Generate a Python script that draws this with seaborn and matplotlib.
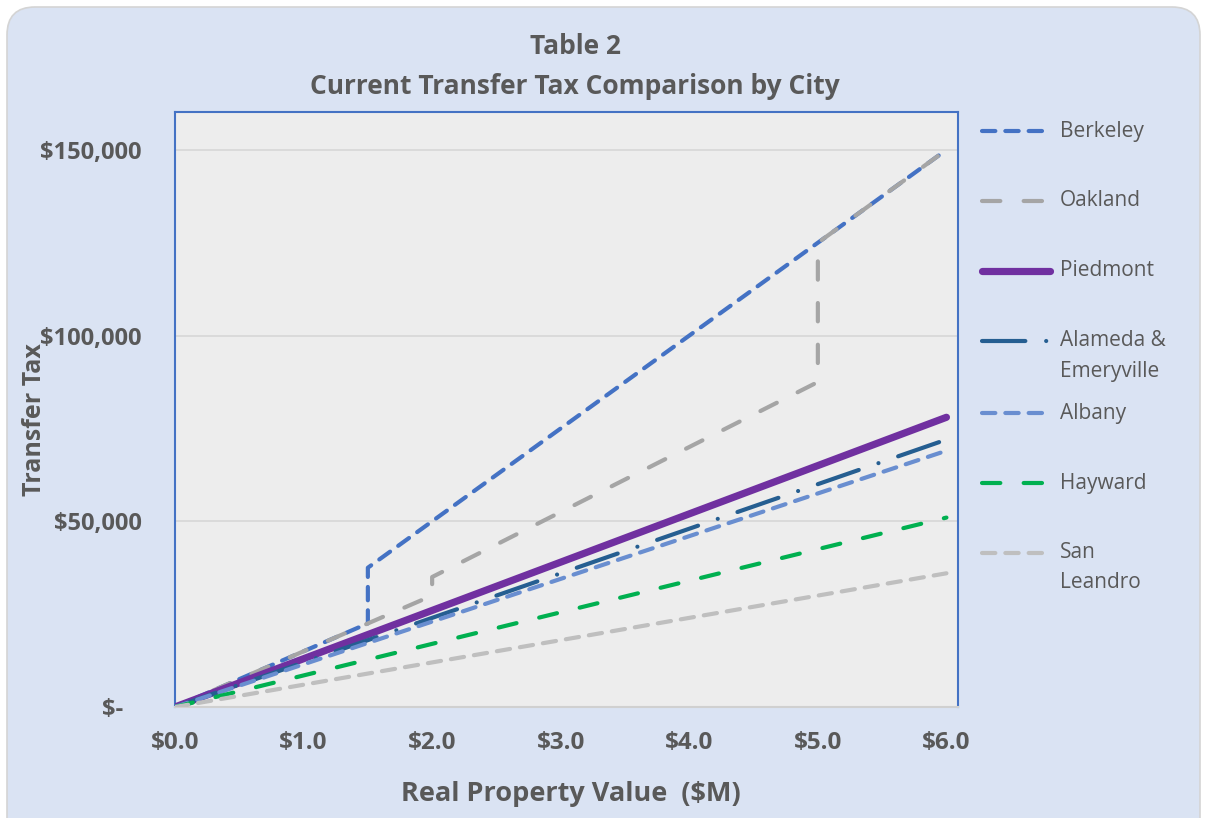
import numpy as np
import pandas as pd
import seaborn as sns
import matplotlib.pyplot as plt
from matplotlib.lines import Line2D
from matplotlib.patches import FancyBboxPatch
from matplotlib.ticker import FuncFormatter

# Data: transfer tax ($) vs real property value ($M), breakpoints
berkeley_x = [0.0, 1.5, 1.5, 6.0]
berkeley_y = [0, 22500, 37500, 150000]
oakland_x = [0.0, 2.0, 2.0, 5.0, 5.0, 6.0]
oakland_y = [0, 30000, 35000, 87500, 125000, 150000]
piedmont_x = [0.0, 6.0]
piedmont_y = [0, 78000]
alameda_x = [0.0, 6.0]
alameda_y = [0, 72000]
albany_x = [0.0, 6.0]
albany_y = [0, 69000]
hayward_x = [0.0, 6.0]
hayward_y = [0, 51000]
sanleandro_x = [0.0, 6.0]
sanleandro_y = [0, 36000]

cities = ["Berkeley", "Oakland", "Piedmont", "Alameda &\nEmeryville",
          "Albany", "Hayward", "San\nLeandro"]
xs = [berkeley_x, oakland_x, piedmont_x, alameda_x, albany_x, hayward_x, sanleandro_x]
ys = [berkeley_y, oakland_y, piedmont_y, alameda_y, albany_y, hayward_y, sanleandro_y]

x_ticks = [0, 1, 2, 3, 4, 5, 6]
y_ticks = [0, 50000, 100000, 150000]

# styles
colors = ["#4472c4", "#a5a5a5", "#7030a0", "#255e91", "#698ed0", "#00b050", "#bfbfbf"]
widths = [3.0, 3.0, 5.2, 3.0, 3.0, 3.0, 3.0]
short = (0, (3.2, 2.4))
long_ = (0, (4.4, 5.6))
dashdot = (0, (10.4, 5.0, 0.01, 5.0))
styles = [short, long_, "-", dashdot, short, long_, short]

sns.set_style("white")
plt.rcParams["font.family"] = ["Open Sans", "DejaVu Sans"]
txt = "#595959"

fig = plt.figure(figsize=(12.07, 8.18), dpi=100)
fig.patch.set_facecolor("white")
bg = FancyBboxPatch((0.07, -0.3), 11.93, 8.41,
                    boxstyle="round,pad=0,rounding_size=0.28",
                    transform=fig.dpi_scale_trans, facecolor="#dae3f3",
                    edgecolor="#d4d4d4", linewidth=1.2, zorder=-10)
fig.add_artist(bg)

ax = fig.add_axes([175 / 1207, 1 - 707 / 818, (958 - 175) / 1207, (707 - 112) / 818])
ax.set_facecolor("#ededed")

for i in range(len(cities)):
    df = pd.DataFrame({"value": xs[i], "tax": ys[i]})
    sns.lineplot(data=df, x="value", y="tax", ax=ax, color=colors[i],
                 linewidth=widths[i], linestyle=styles[i], estimator=None,
                 sort=False, dash_capstyle="round", solid_capstyle="round",
                 zorder=3 + i)

ax.set_xlim(0, 6.09)
ax.set_ylim(0, 160200)
ax.set_xticks(x_ticks)
ax.set_yticks(y_ticks)
ax.xaxis.set_major_formatter(FuncFormatter(lambda v, p: f"${v:.1f}"))
ax.yaxis.set_major_formatter(FuncFormatter(lambda v, p: "$-   " if v == 0 else f"${v:,.0f}"))
ax.grid(axis="y", color="#d9d9d9", linewidth=1.3, zorder=0)
ax.set_axisbelow(True)

for s in ["left", "top", "right"]:
    ax.spines[s].set_color("#4472c4")
    ax.spines[s].set_linewidth(1.5)
ax.spines["bottom"].set_color("#d0d0d0")
ax.spines["bottom"].set_linewidth(1.5)

ax.tick_params(axis="x", length=9, width=1.3, color="#d0d0d0", pad=8,
               labelsize=17.5, labelcolor=txt)
ax.tick_params(axis="y", length=0, pad=24, labelsize=17, labelcolor=txt)
for lab in ax.get_xticklabels() + ax.get_yticklabels():
    lab.set_fontweight("bold")

ax.set_xlabel("Real Property Value  ($M)", fontsize=19.5, fontweight="bold",
              color=txt)
ax.xaxis.set_label_coords(0.506, -0.124)
ax.set_ylabel("Transfer Tax", fontsize=18, fontweight="bold", color=txt)
ax.yaxis.set_label_coords(-0.163, 0.483)

fig.text(575 / 1207, 1 - 47 / 818, "Table 2", ha="center", va="center",
         fontsize=19, fontweight="bold", color=txt)
fig.text(575 / 1207, 1 - 87 / 818, "Current Transfer Tax Comparison by City",
         ha="center", va="center", fontsize=19, fontweight="bold", color=txt)

# legend on the right, drawn by hand so two-line labels line up like the original
leg_y = [131, 201, 271, 341, 413, 483, 553]
for i, name in enumerate(cities):
    yf = 1 - leg_y[i] / 818
    fig.add_artist(Line2D([982 / 1207, 1050 / 1207], [yf, yf], transform=fig.transFigure,
                          color=colors[i], linewidth=widths[i], linestyle=styles[i],
                          dash_capstyle="round", solid_capstyle="round"))
    for j, part in enumerate(name.split("\n")):
        fig.text(1060 / 1207, 1 - (leg_y[i] + 30 * j) / 818, part, ha="left",
                 va="center", fontsize=15, color=txt)

fig.savefig("out.png", dpi=100)
